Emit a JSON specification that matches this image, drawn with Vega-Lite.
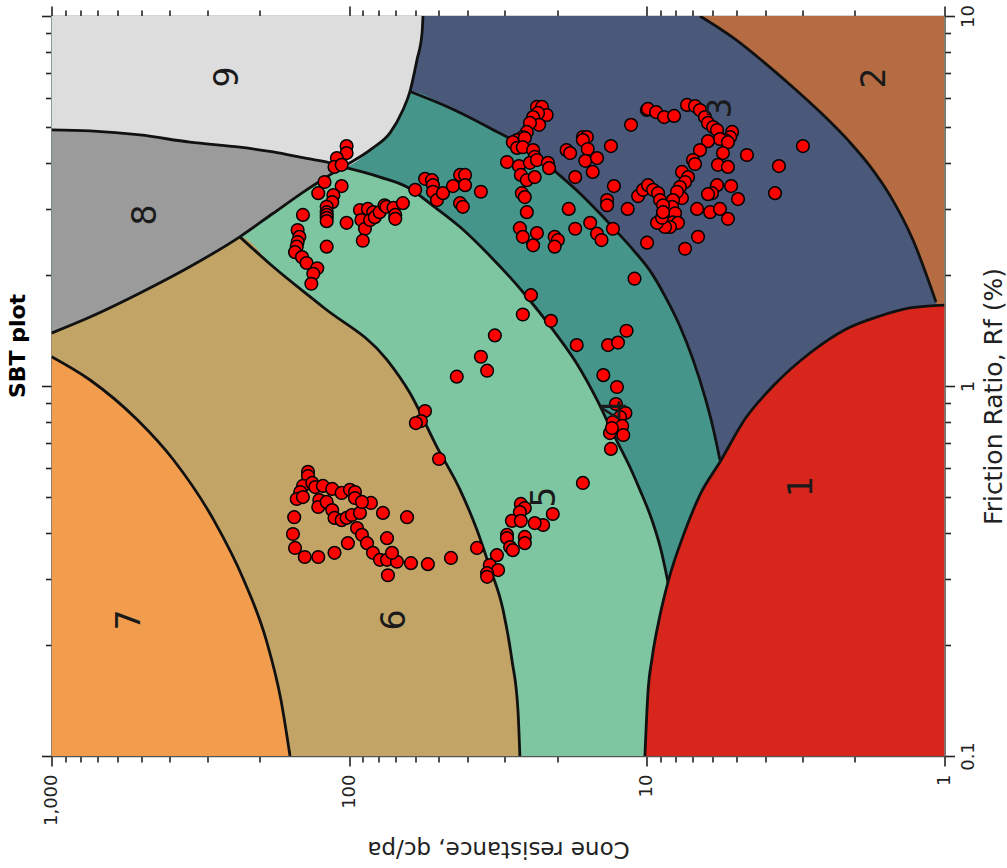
{
"$schema": "https://vega.github.io/schema/vega-lite/v6.json",
"width": 893, "height": 740,
"autosize": {"type": "none"},
"padding": {"left": 51.5, "top": 16, "right": 62.5, "bottom": 112},
"config": {"view": {"stroke": null}, "font": "DejaVu Sans"},
"title": {"text": "SBT plot", "orient": "left", "anchor": "middle", "font": "DejaVu Sans", "fontSize": 22, "fontWeight": "bold", "color": "#000000", "offset": 11, "dx": 40},
"datasets": {
"zones": [
{"zone":"7","qc":1000,"rf":0.1,"rf2":10},{"zone":"7","qc":1,"rf":0.1,"rf2":10},
{"zone":"6","qc":1000,"rf":1.20,"rf2":10},{"zone":"6","qc":742,"rf":1.038,"rf2":10},{"zone":"6","qc":514,"rf":0.809,"rf2":10},{"zone":"6","qc":389,"rf":0.631,"rf2":10},{"zone":"6","qc":285,"rf":0.434,"rf2":10},{"zone":"6","qc":226,"rf":0.299,"rf2":10},{"zone":"6","qc":190,"rf":0.206,"rf2":10},{"zone":"6","qc":169.5,"rf":0.1417,"rf2":10},{"zone":"6","qc":158,"rf":0.1,"rf2":10},{"zone":"6","qc":1,"rf":0.1,"rf2":10},
{"zone":"5","qc":1000,"rf":1.39,"rf2":10},{"zone":"5","qc":742,"rf":1.536,"rf2":10},{"zone":"5","qc":504,"rf":1.784,"rf2":10},{"zone":"5","qc":343,"rf":2.10,"rf2":10},{"zone":"5","qc":233,"rf":2.53,"rf2":10},{"zone":"5","qc":180,"rf":2.10,"rf2":10},{"zone":"5","qc":122.5,"rf":1.635,"rf2":10},{"zone":"5","qc":74.6,"rf":1.176,"rf2":10},{"zone":"5","qc":62.5,"rf":0.957,"rf2":10},{"zone":"5","qc":50.7,"rf":0.684,"rf2":10},{"zone":"5","qc":42.4,"rf":0.524,"rf2":10},{"zone":"5","qc":37.2,"rf":0.408,"rf2":10},{"zone":"5","qc":33.9,"rf":0.328,"rf2":10},{"zone":"5","qc":30.4,"rf":0.248,"rf2":10},{"zone":"5","qc":28.4,"rf":0.182,"rf2":10},{"zone":"5","qc":27.1,"rf":0.133,"rf2":10},{"zone":"5","qc":26.7,"rf":0.1,"rf2":10},{"zone":"5","qc":1,"rf":0.1,"rf2":10},
{"zone":"4","qc":1000,"rf":1.39,"rf2":10},{"zone":"4","qc":742,"rf":1.536,"rf2":10},{"zone":"4","qc":504,"rf":1.784,"rf2":10},{"zone":"4","qc":343,"rf":2.10,"rf2":10},{"zone":"4","qc":233,"rf":2.53,"rf2":10},{"zone":"4","qc":180,"rf":2.93,"rf2":10},{"zone":"4","qc":139,"rf":3.39,"rf2":10},{"zone":"4","qc":105,"rf":3.91,"rf2":10},{"zone":"4","qc":78.8,"rf":3.67,"rf2":10},{"zone":"4","qc":63.9,"rf":3.45,"rf2":10},{"zone":"4","qc":52.3,"rf":3.07,"rf2":10},{"zone":"4","qc":42.4,"rf":2.69,"rf2":10},{"zone":"4","qc":33.7,"rf":2.25,"rf2":10},{"zone":"4","qc":25.7,"rf":1.77,"rf2":10},{"zone":"4","qc":20.7,"rf":1.42,"rf2":10},{"zone":"4","qc":17.2,"rf":1.15,"rf2":10},{"zone":"4","qc":14.7,"rf":0.917,"rf2":10},{"zone":"4","qc":13.0,"rf":0.746,"rf2":10},{"zone":"4","qc":11.4,"rf":0.604,"rf2":10},{"zone":"4","qc":10.55,"rf":0.524,"rf2":10},{"zone":"4","qc":9.61,"rf":0.434,"rf2":10},{"zone":"4","qc":8.96,"rf":0.360,"rf2":10},{"zone":"4","qc":8.49,"rf":0.295,"rf2":10},{"zone":"4","qc":8.17,"rf":0.206,"rf2":10},{"zone":"4","qc":7.98,"rf":0.1,"rf2":10},{"zone":"4","qc":1,"rf":0.1,"rf2":10},
{"zone":"3","qc":1000,"rf":1.39,"rf2":10},{"zone":"3","qc":742,"rf":1.536,"rf2":10},{"zone":"3","qc":504,"rf":1.784,"rf2":10},{"zone":"3","qc":343,"rf":2.10,"rf2":10},{"zone":"3","qc":233,"rf":2.53,"rf2":10},{"zone":"3","qc":180,"rf":2.93,"rf2":10},{"zone":"3","qc":139,"rf":3.39,"rf2":10},{"zone":"3","qc":105,"rf":3.91,"rf2":10},{"zone":"3","qc":83.2,"rf":4.40,"rf2":10},{"zone":"3","qc":72.9,"rf":4.83,"rf2":10},{"zone":"3","qc":66.0,"rf":5.57,"rf2":10},{"zone":"3","qc":62.5,"rf":6.25,"rf2":10},{"zone":"3","qc":45.8,"rf":5.64,"rf2":10},{"zone":"3","qc":33.7,"rf":4.98,"rf2":10},{"zone":"3","qc":24.7,"rf":4.32,"rf2":10},{"zone":"3","qc":20.0,"rf":3.76,"rf2":10},{"zone":"3","qc":16.8,"rf":3.32,"rf2":10},{"zone":"3","qc":14.4,"rf":2.93,"rf2":10},{"zone":"3","qc":12.6,"rf":2.61,"rf2":10},{"zone":"3","qc":11.1,"rf":2.33,"rf2":10},{"zone":"3","qc":9.76,"rf":2.05,"rf2":10},{"zone":"3","qc":8.69,"rf":1.75,"rf2":10},{"zone":"3","qc":7.74,"rf":1.45,"rf2":10},{"zone":"3","qc":7.00,"rf":1.18,"rf2":10},{"zone":"3","qc":6.38,"rf":0.934,"rf2":10},{"zone":"3","qc":5.99,"rf":0.770,"rf2":10},{"zone":"3","qc":5.68,"rf":0.631,"rf2":10},{"zone":"3","qc":5.42,"rf":0.339,"rf2":10},{"zone":"3","qc":5.25,"rf":0.1,"rf2":10},{"zone":"3","qc":1,"rf":0.1,"rf2":10},
{"zone":"2","qc":6.63,"rf":10,"rf2":10},{"zone":"2","qc":5.05,"rf":8.66,"rf2":10},{"zone":"2","qc":4.01,"rf":7.46,"rf2":10},{"zone":"2","qc":3.18,"rf":6.35,"rf2":10},{"zone":"2","qc":2.58,"rf":5.44,"rf2":10},{"zone":"2","qc":2.08,"rf":4.56,"rf2":10},{"zone":"2","qc":1.78,"rf":3.93,"rf2":10},{"zone":"2","qc":1.52,"rf":3.26,"rf2":10},{"zone":"2","qc":1.276,"rf":2.48,"rf2":10},{"zone":"2","qc":1.068,"rf":1.687,"rf2":10},{"zone":"2","qc":1,"rf":1.42,"rf2":10},
{"zone":"1","qc":10.15,"rf":0.1,"rf2":0.1},{"zone":"1","qc":9.91,"rf":0.1,"rf2":0.149},{"zone":"1","qc":9.61,"rf":0.1,"rf2":0.183},{"zone":"1","qc":9.03,"rf":0.1,"rf2":0.240},{"zone":"1","qc":8.49,"rf":0.1,"rf2":0.295},{"zone":"1","qc":7.44,"rf":0.1,"rf2":0.406},{"zone":"1","qc":6.63,"rf":0.1,"rf2":0.508},{"zone":"1","qc":5.68,"rf":0.1,"rf2":0.623},{"zone":"1","qc":4.68,"rf":0.1,"rf2":0.814},{"zone":"1","qc":3.71,"rf":0.1,"rf2":1.012},{"zone":"1","qc":2.83,"rf":0.1,"rf2":1.228},{"zone":"1","qc":2.16,"rf":0.1,"rf2":1.42},{"zone":"1","qc":1.647,"rf":0.1,"rf2":1.546},{"zone":"1","qc":1.306,"rf":0.1,"rf2":1.625},{"zone":"1","qc":1,"rf":0.1,"rf2":1.655},
{"zone":"8","qc":1000,"rf":1.39,"rf2":4.92},{"zone":"8","qc":742,"rf":1.536,"rf2":4.89},{"zone":"8","qc":504,"rf":1.784,"rf2":4.77},{"zone":"8","qc":343,"rf":2.10,"rf2":4.56},{"zone":"8","qc":233,"rf":2.53,"rf2":4.42},{"zone":"8","qc":180,"rf":2.93,"rf2":4.29},{"zone":"8","qc":139,"rf":3.39,"rf2":4.12},{"zone":"8","qc":116,"rf":3.72,"rf2":4.01},{"zone":"8","qc":105,"rf":3.91,"rf2":3.91},
{"zone":"9","qc":1000,"rf":4.92,"rf2":10},{"zone":"9","qc":742,"rf":4.89,"rf2":10},{"zone":"9","qc":504,"rf":4.77,"rf2":10},{"zone":"9","qc":343,"rf":4.56,"rf2":10},{"zone":"9","qc":233,"rf":4.42,"rf2":10},{"zone":"9","qc":180,"rf":4.29,"rf2":10},{"zone":"9","qc":139,"rf":4.12,"rf2":10},{"zone":"9","qc":116,"rf":4.01,"rf2":10},{"zone":"9","qc":105,"rf":3.91,"rf2":10},{"zone":"9","qc":83.2,"rf":4.40,"rf2":10},{"zone":"9","qc":72.9,"rf":4.83,"rf2":10},{"zone":"9","qc":66.0,"rf":5.57,"rf2":10},{"zone":"9","qc":62.5,"rf":6.25,"rf2":10},{"zone":"9","qc":59.2,"rf":7.60,"rf2":10},{"zone":"9","qc":56.9,"rf":9.00,"rf2":10},{"zone":"9","qc":56.5,"rf":10,"rf2":10}
],
"bounds": [
{"line":"b76","qc":1000,"rf":1.20},{"line":"b76","qc":742,"rf":1.038},{"line":"b76","qc":514,"rf":0.809},{"line":"b76","qc":389,"rf":0.631},{"line":"b76","qc":285,"rf":0.434},{"line":"b76","qc":226,"rf":0.299},{"line":"b76","qc":190,"rf":0.206},{"line":"b76","qc":169.5,"rf":0.1417},{"line":"b76","qc":158,"rf":0.1},
{"line":"b65","qc":233,"rf":2.53},{"line":"b65","qc":180,"rf":2.10},{"line":"b65","qc":122.5,"rf":1.635},{"line":"b65","qc":74.6,"rf":1.176},{"line":"b65","qc":62.5,"rf":0.957},{"line":"b65","qc":50.7,"rf":0.684},{"line":"b65","qc":42.4,"rf":0.524},{"line":"b65","qc":37.2,"rf":0.408},{"line":"b65","qc":33.9,"rf":0.328},{"line":"b65","qc":30.4,"rf":0.248},{"line":"b65","qc":28.4,"rf":0.182},{"line":"b65","qc":27.1,"rf":0.133},{"line":"b65","qc":26.7,"rf":0.1},
{"line":"b54","qc":105,"rf":3.91},{"line":"b54","qc":78.8,"rf":3.67},{"line":"b54","qc":63.9,"rf":3.45},{"line":"b54","qc":52.3,"rf":3.07},{"line":"b54","qc":42.4,"rf":2.69},{"line":"b54","qc":33.7,"rf":2.25},{"line":"b54","qc":25.7,"rf":1.77},{"line":"b54","qc":20.7,"rf":1.42},{"line":"b54","qc":17.2,"rf":1.15},{"line":"b54","qc":14.7,"rf":0.917},{"line":"b54","qc":13.0,"rf":0.746},{"line":"b54","qc":11.4,"rf":0.604},{"line":"b54","qc":10.55,"rf":0.524},{"line":"b54","qc":9.61,"rf":0.434},{"line":"b54","qc":8.96,"rf":0.360},{"line":"b54","qc":8.49,"rf":0.295},
{"line":"b43","qc":62.5,"rf":6.25},{"line":"b43","qc":45.8,"rf":5.64},{"line":"b43","qc":33.7,"rf":4.98},{"line":"b43","qc":24.7,"rf":4.32},{"line":"b43","qc":20.0,"rf":3.76},{"line":"b43","qc":16.8,"rf":3.32},{"line":"b43","qc":14.4,"rf":2.93},{"line":"b43","qc":12.6,"rf":2.61},{"line":"b43","qc":11.1,"rf":2.33},{"line":"b43","qc":9.76,"rf":2.05},{"line":"b43","qc":8.69,"rf":1.75},{"line":"b43","qc":7.74,"rf":1.45},{"line":"b43","qc":7.00,"rf":1.18},{"line":"b43","qc":6.38,"rf":0.934},{"line":"b43","qc":5.99,"rf":0.770},{"line":"b43","qc":5.68,"rf":0.631},
{"line":"b32","qc":6.63,"rf":10},{"line":"b32","qc":5.05,"rf":8.66},{"line":"b32","qc":4.01,"rf":7.46},{"line":"b32","qc":3.18,"rf":6.35},{"line":"b32","qc":2.58,"rf":5.44},{"line":"b32","qc":2.08,"rf":4.56},{"line":"b32","qc":1.78,"rf":3.93},{"line":"b32","qc":1.52,"rf":3.26},{"line":"b32","qc":1.276,"rf":2.48},{"line":"b32","qc":1.068,"rf":1.687},
{"line":"b1","qc":10.15,"rf":0.1},{"line":"b1","qc":9.91,"rf":0.149},{"line":"b1","qc":9.61,"rf":0.183},{"line":"b1","qc":9.03,"rf":0.240},{"line":"b1","qc":8.49,"rf":0.295},{"line":"b1","qc":7.44,"rf":0.406},{"line":"b1","qc":6.63,"rf":0.508},{"line":"b1","qc":5.68,"rf":0.623},{"line":"b1","qc":4.68,"rf":0.814},{"line":"b1","qc":3.71,"rf":1.012},{"line":"b1","qc":2.83,"rf":1.228},{"line":"b1","qc":2.16,"rf":1.42},{"line":"b1","qc":1.647,"rf":1.546},{"line":"b1","qc":1.306,"rf":1.625},{"line":"b1","qc":1,"rf":1.655},
{"line":"l8","qc":1000,"rf":1.39},{"line":"l8","qc":742,"rf":1.536},{"line":"l8","qc":504,"rf":1.784},{"line":"l8","qc":343,"rf":2.10},{"line":"l8","qc":233,"rf":2.53},{"line":"l8","qc":180,"rf":2.93},{"line":"l8","qc":139,"rf":3.39},{"line":"l8","qc":116,"rf":3.72},{"line":"l8","qc":105,"rf":3.91},
{"line":"u8","qc":1000,"rf":4.92},{"line":"u8","qc":742,"rf":4.89},{"line":"u8","qc":504,"rf":4.77},{"line":"u8","qc":343,"rf":4.56},{"line":"u8","qc":233,"rf":4.42},{"line":"u8","qc":180,"rf":4.29},{"line":"u8","qc":139,"rf":4.12},{"line":"u8","qc":116,"rf":4.01},{"line":"u8","qc":105,"rf":3.91},
{"line":"z9","qc":105,"rf":3.91},{"line":"z9","qc":83.2,"rf":4.40},{"line":"z9","qc":72.9,"rf":4.83},{"line":"z9","qc":66.0,"rf":5.57},{"line":"z9","qc":62.5,"rf":6.25},{"line":"z9","qc":59.2,"rf":7.60},{"line":"z9","qc":56.9,"rf":9.00},{"line":"z9","qc":56.5,"rf":10}
],
"labels": [
{"label":"9","qc":255,"rf":6.84},{"label":"8","qc":482,"rf":2.90},{"label":"7","qc":545,"rf":0.233},{"label":"6","qc":70.2,"rf":0.233},{"label":"5","qc":22.0,"rf":0.501},{"label":"4","qc":12.7,"rf":0.861},{"label":"3","qc":5.63,"rf":5.64},{"label":"2","qc":1.71,"rf":6.80},{"label":"1","qc":3.0,"rf":0.535}
],
"points": [
{"qc":102,"rf":4.45},{"qc":102,"rf":4.26},{"qc":110,"rf":4.13},{"qc":112,"rf":3.91},{"qc":106,"rf":3.96},{"qc":121,"rf":3.56},{"qc":106,"rf":3.47},{"qc":127,"rf":3.32},{"qc":113,"rf":3.28},{"qc":114,"rf":3.14},
{"qc":119,"rf":3.05},{"qc":119,"rf":2.95},{"qc":119,"rf":2.90},{"qc":119,"rf":2.85},{"qc":119,"rf":2.79},{"qc":143,"rf":2.90},{"qc":102,"rf":2.76},{"qc":149,"rf":2.64},{"qc":147,"rf":2.53},{"qc":149,"rf":2.45},
{"qc":150,"rf":2.38},{"qc":152,"rf":2.30},{"qc":119,"rf":2.38},{"qc":144,"rf":2.23},{"qc":139,"rf":2.15},{"qc":128,"rf":2.08},{"qc":132,"rf":2.01},{"qc":134,"rf":1.89},{"qc":92,"rf":2.99},{"qc":86.5,"rf":3.01},
{"qc":83,"rf":2.95},{"qc":91,"rf":2.81},{"qc":88.5,"rf":2.66},{"qc":90,"rf":2.47},{"qc":85,"rf":2.81},{"qc":82,"rf":2.86},{"qc":79,"rf":2.95},{"qc":76,"rf":3.08},{"qc":75,"rf":3.05},{"qc":71,"rf":3.03},
{"qc":70,"rf":2.90},{"qc":70,"rf":2.83},{"qc":66,"rf":3.12},{"qc":60,"rf":3.39},{"qc":55.6,"rf":3.63},{"qc":52.7,"rf":3.60},{"qc":52.3,"rf":3.49},{"qc":52.3,"rf":3.35},{"qc":50.7,"rf":3.18},{"qc":48.4,"rf":3.32},
{"qc":44.8,"rf":3.47},{"qc":42.4,"rf":3.72},{"qc":40.8,"rf":3.72},{"qc":40.8,"rf":3.49},{"qc":42.4,"rf":3.12},{"qc":41.5,"rf":3.05},{"qc":36.1,"rf":3.35},{"qc":23.4,"rf":5.68},{"qc":22.5,"rf":5.68},{"qc":21.7,"rf":5.40},
{"qc":23.2,"rf":5.47},{"qc":24.1,"rf":5.33},{"qc":23.0,"rf":5.08},{"qc":24.7,"rf":5.14},{"qc":25.3,"rf":4.86},{"qc":26.1,"rf":4.71},{"qc":27.3,"rf":4.62},{"qc":28.2,"rf":4.56},{"qc":25.7,"rf":4.68},{"qc":27.3,"rf":4.40},
{"qc":26.1,"rf":4.42},{"qc":24.1,"rf":4.34},{"qc":23.8,"rf":4.16},{"qc":29.5,"rf":4.03},{"qc":26.9,"rf":3.93},{"qc":24.7,"rf":4.01},{"qc":23.4,"rf":4.08},{"qc":21.5,"rf":4.01},{"qc":21.3,"rf":3.88},{"qc":26.5,"rf":3.72},
{"qc":25.3,"rf":3.60},{"qc":23.8,"rf":3.67},{"qc":26.3,"rf":3.32},{"qc":25.7,"rf":3.24},{"qc":25.3,"rf":2.95},{"qc":26.7,"rf":2.67},{"qc":26.1,"rf":2.53},{"qc":23.4,"rf":2.59},{"qc":24.1,"rf":2.40},{"qc":20.4,"rf":2.53},
{"qc":19.9,"rf":2.48},{"qc":20.4,"rf":2.38},{"qc":16.4,"rf":4.71},{"qc":15.9,"rf":4.71},{"qc":16.4,"rf":4.62},{"qc":18.6,"rf":4.34},{"qc":18.1,"rf":4.26},{"qc":15.8,"rf":4.37},{"qc":16.1,"rf":4.06},{"qc":14.7,"rf":4.13},
{"qc":15.2,"rf":3.79},{"qc":17.4,"rf":3.67},{"qc":13.2,"rf":4.45},{"qc":11.3,"rf":5.08},{"qc":12.9,"rf":3.47},{"qc":13.6,"rf":3.18},{"qc":13.6,"rf":3.08},{"qc":11.6,"rf":3.01},{"qc":10.7,"rf":3.26},{"qc":10.3,"rf":3.39},
{"qc":18.3,"rf":3.01},{"qc":17.4,"rf":2.66},{"qc":15.5,"rf":2.76},{"qc":14.7,"rf":2.58},{"qc":14.2,"rf":2.48},{"qc":13.0,"rf":2.66},{"qc":9.98,"rf":2.44},{"qc":10.0,"rf":5.57},{"qc":9.91,"rf":5.61},{"qc":9.31,"rf":5.50},
{"qc":8.75,"rf":5.33},{"qc":8.10,"rf":5.37},{"qc":7.33,"rf":5.75},{"qc":6.89,"rf":5.71},{"qc":6.63,"rf":5.57},{"qc":6.38,"rf":5.33},{"qc":6.23,"rf":5.14},{"qc":5.99,"rf":5.01},{"qc":5.81,"rf":4.92},{"qc":5.17,"rf":4.86},
{"qc":5.25,"rf":4.71},{"qc":5.46,"rf":4.62},{"qc":5.68,"rf":4.65},{"qc":5.34,"rf":4.56},{"qc":6.23,"rf":4.59},{"qc":6.63,"rf":4.34},{"qc":7.00,"rf":4.08},{"qc":6.89,"rf":3.98},{"qc":5.55,"rf":4.26},{"qc":5.77,"rf":3.96},
{"qc":5.34,"rf":3.91},{"qc":4.61,"rf":4.21},{"qc":3.60,"rf":3.93},{"qc":2.99,"rf":4.45},{"qc":3.71,"rf":3.32},{"qc":4.94,"rf":3.20},{"qc":5.21,"rf":3.47},{"qc":5.81,"rf":3.49},{"qc":6.04,"rf":3.32},{"qc":6.23,"rf":3.30},
{"qc":6.78,"rf":3.01},{"qc":6.13,"rf":2.95},{"qc":5.68,"rf":3.01},{"qc":5.34,"rf":2.83},{"qc":6.73,"rf":2.53},{"qc":7.44,"rf":2.35},{"qc":7.62,"rf":3.79},{"qc":7.27,"rf":3.67},{"qc":7.44,"rf":3.56},{"qc":7.74,"rf":3.45},
{"qc":7.62,"rf":3.22},{"qc":7.92,"rf":3.35},{"qc":8.17,"rf":3.18},{"qc":8.23,"rf":3.05},{"qc":8.04,"rf":2.93},{"qc":8.17,"rf":2.77},{"qc":7.86,"rf":2.76},{"qc":8.36,"rf":2.69},{"qc":8.69,"rf":2.69},{"qc":9.24,"rf":2.76},
{"qc":8.89,"rf":2.85},{"qc":9.91,"rf":3.49},{"qc":9.53,"rf":3.39},{"qc":9.17,"rf":3.32},{"qc":9.03,"rf":3.18},{"qc":8.82,"rf":3.08},{"qc":8.82,"rf":2.95},{"qc":11.0,"rf":1.95},{"qc":24.5,"rf":1.76},{"qc":26.1,"rf":1.56},
{"qc":21.0,"rf":1.50},{"qc":32.4,"rf":1.37},{"qc":36.1,"rf":1.20},{"qc":34.4,"rf":1.10},{"qc":43.5,"rf":1.06},{"qc":17.2,"rf":1.29},{"qc":13.5,"rf":1.29},{"qc":12.5,"rf":1.31},{"qc":11.7,"rf":1.41},{"qc":14.0,"rf":1.07},
{"qc":12.6,"rf":0.994},{"qc":12.7,"rf":0.894},{"qc":11.8,"rf":0.845},{"qc":12.3,"rf":0.825},{"qc":13.0,"rf":0.799},{"qc":12.1,"rf":0.780},{"qc":12.0,"rf":0.737},{"qc":13.3,"rf":0.746},{"qc":13.1,"rf":0.770},{"qc":13.2,"rf":0.676},
{"qc":16.4,"rf":0.547},{"qc":55.6,"rf":0.856},{"qc":57.4,"rf":0.804},{"qc":59.7,"rf":0.794},{"qc":49.9,"rf":0.635},{"qc":20.7,"rf":0.451},{"qc":22.3,"rf":0.421},{"qc":23.8,"rf":0.426},{"qc":26.5,"rf":0.480},{"qc":25.7,"rf":0.468},
{"qc":26.7,"rf":0.456},{"qc":28.4,"rf":0.432},{"qc":26.5,"rf":0.432},{"qc":29.5,"rf":0.396},{"qc":29.5,"rf":0.388},{"qc":25.7,"rf":0.391},{"qc":25.7,"rf":0.376},{"qc":28.8,"rf":0.367},{"qc":28.2,"rf":0.360},{"qc":31.9,"rf":0.349},
{"qc":33.7,"rf":0.328},{"qc":31.6,"rf":0.318},{"qc":34.4,"rf":0.312},{"qc":34.4,"rf":0.305},{"qc":37.2,"rf":0.365},{"qc":45.5,"rf":0.343},{"qc":54.4,"rf":0.330},{"qc":62.0,"rf":0.332},{"qc":63.9,"rf":0.442},{"qc":77.0,"rf":0.454},
{"qc":84.5,"rf":0.483},{"qc":137.5,"rf":0.586},{"qc":137.5,"rf":0.571},{"qc":143,"rf":0.537},{"qc":133,"rf":0.547},{"qc":146,"rf":0.517},{"qc":150,"rf":0.495},{"qc":143,"rf":0.501},{"qc":130,"rf":0.533},{"qc":122.5,"rf":0.537},
{"qc":114,"rf":0.527},{"qc":106,"rf":0.514},{"qc":99.4,"rf":0.524},{"qc":95.6,"rf":0.517},{"qc":126,"rf":0.492},{"qc":127,"rf":0.471},{"qc":119,"rf":0.486},{"qc":114,"rf":0.462},{"qc":112,"rf":0.440},{"qc":106,"rf":0.434},
{"qc":102,"rf":0.440},{"qc":97.9,"rf":0.448},{"qc":95.6,"rf":0.498},{"qc":92,"rf":0.454},{"qc":90.6,"rf":0.486},{"qc":94.1,"rf":0.413},{"qc":90.6,"rf":0.396},{"qc":87.1,"rf":0.376},{"qc":83.2,"rf":0.354},{"qc":78.8,"rf":0.339},
{"qc":74.6,"rf":0.339},{"qc":69.1,"rf":0.335},{"qc":74.1,"rf":0.308},{"qc":74.6,"rf":0.388},{"qc":71.8,"rf":0.354},{"qc":153,"rf":0.442},{"qc":154.5,"rf":0.398},{"qc":152,"rf":0.365},{"qc":141,"rf":0.345},{"qc":127,"rf":0.345},
{"qc":112,"rf":0.354},{"qc":101,"rf":0.376}
]
},
"layer": [
{
"encoding": {
"x": {"field": "qc", "type": "quantitative",
"scale": {"type": "log", "domain": [1, 1000], "reverse": true, "nice": false},
"axis": {"orient": "bottom", "values": [1,2,3,4,5,6,7,8,9,10,20,30,40,50,60,70,80,90,100,200,300,400,500,600,700,800,900,1000],
"labelExpr": "datum.value == 1 || datum.value == 10 || datum.value == 100 || datum.value == 1000 ? format(datum.value, ',') : ''",
"labelAngle": 270, "labelAlign": "right", "labelBaseline": "middle", "labelPadding": 8, "labelFont": "DejaVu Sans", "labelFontSize": 18, "labelColor": "#222222", "labelOverlap": false, "labelFlush": false,
"tickSize": {"condition": {"test": "datum.value == 1 || datum.value == 10 || datum.value == 100 || datum.value == 1000", "value": 10}, "value": 6},
"tickColor": "#222222", "tickWidth": 1.6, "domainColor": "#555555", "domainWidth": 1.6, "grid": false,
"title": "Cone resistance, qc/pa", "titleFont": "DejaVu Sans", "titleFontSize": 23, "titleFontWeight": "normal", "titleColor": "#222222",
"titleAngle": 180, "titleX": 446.5, "titleY": 92, "titleAlign": "center", "titleBaseline": "middle"}},
"y": {"field": "rf", "type": "quantitative", "stack": null,
"scale": {"type": "log", "domain": [0.1, 10], "nice": false},
"axis": {"orient": "right", "values": [0.1,0.2,0.3,0.4,0.5,0.6,0.7,0.8,0.9,1,2,3,4,5,6,7,8,9,10],
"labelExpr": "datum.value == 0.1 || datum.value == 1 || datum.value == 10 ? format(datum.value, '~g') : ''",
"labelAngle": 270, "labelAlign": "center", "labelBaseline": "top", "labelPadding": 5, "labelFont": "DejaVu Sans", "labelFontSize": 18, "labelColor": "#222222", "labelOverlap": false, "labelFlush": false,
"tickSize": {"condition": {"test": "datum.value == 0.1 || datum.value == 1 || datum.value == 10", "value": 10}, "value": 6},
"tickColor": "#222222", "tickWidth": 1.6, "domainColor": "#555555", "domainWidth": 1.6, "grid": false,
"title": "Friction Ratio, Rf (%)", "titleFont": "DejaVu Sans", "titleFontSize": 25, "titleFontWeight": "normal", "titleColor": "#222222",
"titleAngle": 270, "titleX": 48.5, "titleY": 380, "titleAlign": "center", "titleBaseline": "middle"}}
},
"layer": [
{"data": {"name": "zones"}, "transform": [{"filter": "datum.zone == '7'"}], "mark": {"type": "area", "color": "#F29D4D", "clip": true}, "encoding": {"y2": {"field": "rf2"}}},
{"data": {"name": "zones"}, "transform": [{"filter": "datum.zone == '6'"}], "mark": {"type": "area", "interpolate": "monotone", "color": "#C3A467", "clip": true}, "encoding": {"y2": {"field": "rf2"}}},
{"data": {"name": "zones"}, "transform": [{"filter": "datum.zone == '5'"}], "mark": {"type": "area", "interpolate": "monotone", "color": "#7DC6A1", "clip": true}, "encoding": {"y2": {"field": "rf2"}}},
{"data": {"name": "zones"}, "transform": [{"filter": "datum.zone == '4'"}], "mark": {"type": "area", "interpolate": "monotone", "color": "#45958A", "clip": true}, "encoding": {"y2": {"field": "rf2"}}},
{"data": {"name": "zones"}, "transform": [{"filter": "datum.zone == '3'"}], "mark": {"type": "area", "interpolate": "monotone", "color": "#4A5879", "clip": true}, "encoding": {"y2": {"field": "rf2"}}},
{"data": {"name": "zones"}, "transform": [{"filter": "datum.zone == '2'"}], "mark": {"type": "area", "interpolate": "monotone", "color": "#B56C42", "clip": true}, "encoding": {"y2": {"field": "rf2"}}},
{"data": {"name": "zones"}, "transform": [{"filter": "datum.zone == '1'"}], "mark": {"type": "area", "interpolate": "monotone", "color": "#D9261C", "clip": true}, "encoding": {"y2": {"field": "rf2"}}},
{"data": {"name": "zones"}, "transform": [{"filter": "datum.zone == '8'"}], "mark": {"type": "area", "interpolate": "monotone", "color": "#9B9B9B", "clip": true}, "encoding": {"y2": {"field": "rf2"}}},
{"data": {"name": "zones"}, "transform": [{"filter": "datum.zone == '9'"}], "mark": {"type": "area", "interpolate": "monotone", "color": "#DDDDDD", "clip": true}, "encoding": {"y2": {"field": "rf2"}}},
{"data": {"name": "bounds"}, "mark": {"type": "line", "interpolate": "monotone", "color": "#111111", "strokeWidth": 2.8, "clip": true}, "encoding": {"detail": {"field": "line"}}},
{"data": {"name": "points"}, "mark": {"type": "circle", "size": 160, "color": "#FF0000", "opacity": 1, "stroke": "#000000", "strokeWidth": 1.5}},
{"data": {"name": "labels"}, "mark": {"type": "text", "angle": 270, "font": "DejaVu Sans", "fontSize": 33, "color": "#1a1a1a", "align": "center", "baseline": "middle"}, "encoding": {"text": {"field": "label"}}}
]
},
{
"data": {"values": [{"qc": 10, "rf": 1}]},
"mark": {"type": "point", "opacity": 0},
"encoding": {
"x": {"field": "qc", "type": "quantitative",
"scale": {"type": "log", "domain": [1, 1000], "reverse": true, "nice": false},
"axis": {"orient": "top", "values": [1,2,3,4,5,6,7,8,9,10,20,30,40,50,60,70,80,90,100,200,300,400,500,600,700,800,900,1000], "labels": false, "title": null,
"tickSize": {"condition": {"test": "datum.value == 1 || datum.value == 10 || datum.value == 100 || datum.value == 1000", "value": 10}, "value": 6},
"tickColor": "#222222", "tickWidth": 1.6, "domainColor": "#555555", "domainWidth": 1.6, "grid": false}},
"y": {"field": "rf", "type": "quantitative",
"scale": {"type": "log", "domain": [0.1, 10], "nice": false},
"axis": {"orient": "left", "values": [0.1,0.2,0.3,0.4,0.5,0.6,0.7,0.8,0.9,1,2,3,4,5,6,7,8,9,10], "labels": false, "title": null,
"tickSize": {"condition": {"test": "datum.value == 0.1 || datum.value == 1 || datum.value == 10", "value": 10}, "value": 6},
"tickColor": "#222222", "tickWidth": 1.6, "domainColor": "#555555", "domainWidth": 1.6, "grid": false}}
}
}
],
"resolve": {"axis": {"x": "independent", "y": "independent"}}
}
